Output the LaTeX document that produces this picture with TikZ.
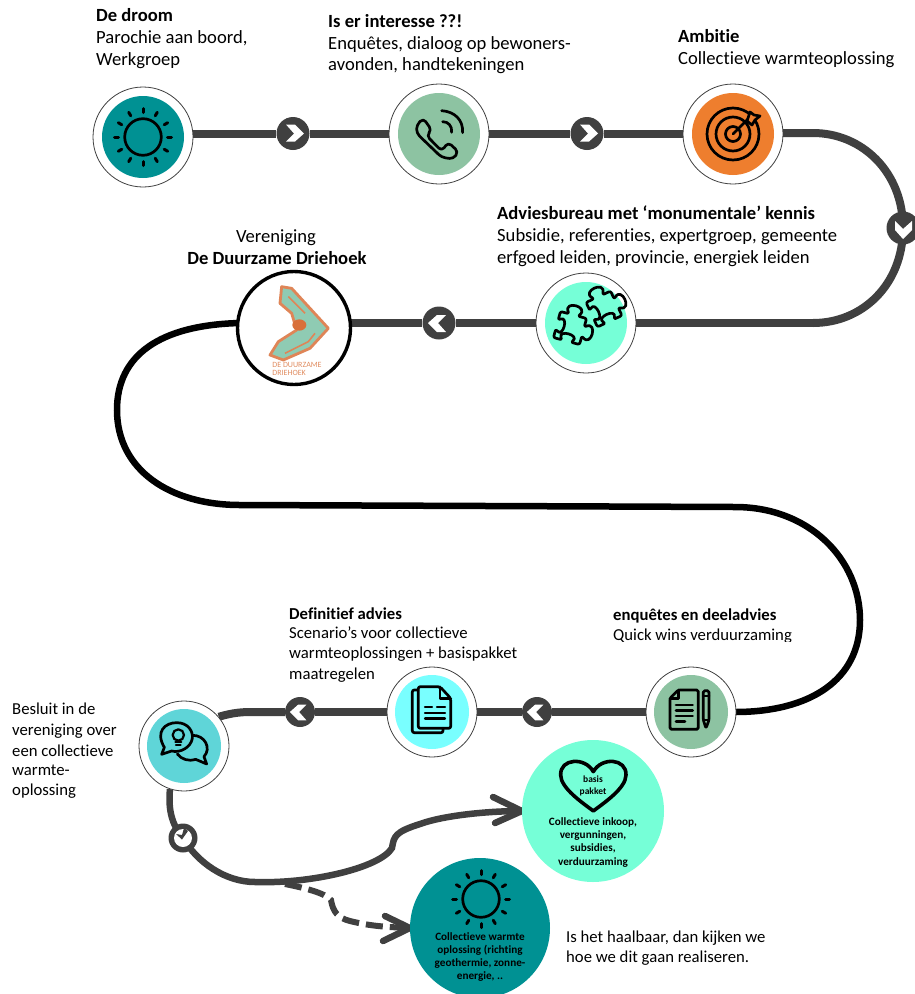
\documentclass[tikz,border=0pt]{standalone}
\usepackage{fontspec}
\setmainfont[Ligatures=CommonOff]{Carlito}
\definecolor{ink}{HTML}{404040}
\definecolor{teal1}{HTML}{009193}
\definecolor{sage}{HTML}{8DC3A2}
\definecolor{orange1}{HTML}{EE7E2E}
\definecolor{aqua}{HTML}{76FFD7}
\definecolor{cyan1}{HTML}{79FFFF}
\definecolor{turq}{HTML}{5FD5D8}
\definecolor{logoG}{HTML}{8FCBB3}
\definecolor{logoO}{HTML}{D9703A}
\pgfdeclarelayer{bg}
\pgfsetlayers{bg,main}
\tikzset{
  ring/.style={circle,draw=ink,line width=.8pt,fill=white,inner sep=0pt,minimum size=#1},
  disc/.style={circle,fill=#1,inner sep=0pt},
  hub/.style={circle,fill=ink,inner sep=0pt,minimum size=#1},
  track/.style={draw=ink,line width=8pt},
  blacktrack/.style={draw=black,line width=6.5pt},
  thin track/.style={draw=ink,line width=6.5pt,line cap=round},
  icon/.style={draw=black,line width=2.7pt,line cap=round,line join=round},
  txt/.style={anchor=base west,inner sep=0pt,font=\fontsize{18.6}{22}\selectfont},
  txtc/.style={anchor=base,inner sep=0pt,font=\fontsize{18.6}{22}\selectfont},
  low/.style={anchor=base west,inner sep=0pt,font=\fontsize{16.7}{20}\selectfont},
  small/.style={anchor=center,inner sep=0pt,font=\fontsize{11.2}{13}\selectfont\bfseries},
  tiny/.style={anchor=center,inner sep=0pt,font=\fontsize{9.5}{11}\selectfont\bfseries},
}
\newcommand{\chevglyph}[3]{\fill[white,shift={(#1)},rotate=#2,scale=#3] (-7,-9)--(2,-9)--(11,0)--(2,8)--(-7,8)--(1,0)--cycle;}
\newcommand{\sunicon}[1]{%
  \draw[icon,shift={(#1)}] (0,0) circle (18.3);
  \foreach \a in {0,30,...,330}{\draw[icon,line width=3pt,shift={(#1)}] (\a:24.5)--(\a:28.5);}
}
\newcommand{\puzzle}[2]{\draw[icon,shift={(#1)},rotate=#2,scale=1.35,rounded corners=2pt]
  (-10,-10)--(-3.5,-10) .. controls (-10,-19) and (10,-19) .. (3.5,-10)
  --(10,-10)--(10,-3.5) .. controls (19,-10) and (19,10) .. (10,3.5)
  --(10,10)--(3.5,10) .. controls (9,3) and (-9,3) .. (-3.5,10)
  --(-10,10)--(-10,3.5) .. controls (-3,9) and (-3,-9) .. (-10,-3.5)--cycle;}
\begin{document}
\begin{tikzpicture}[x=1pt,y=-1pt]
\useasboundingbox (0,0) rectangle (915,994);

% stations
\node[ring=100pt] (sun) at (143,137) {};
\node[ring=100pt] (phone) at (439,134) {};
\node[ring=100pt] (target) at (733,134) {};
\node[ring=100pt] (puz) at (586,323) {};
\node[circle,draw=black,line width=3.4pt,fill=white,inner sep=0pt,minimum size=113pt] (logo) at (294,328) {};
\node[ring=90pt] (doc) at (691,712) {};
\node[ring=90pt] (pages) at (432,712) {};
\node[ring=90pt] (bulb) at (184,746) {};
\node[disc=teal1,minimum size=82pt] (sund) at (sun) {};
\node[disc=sage,minimum size=82pt] (phoned) at (phone) {};
\node[disc=orange1,minimum size=82pt] (targetd) at (target) {};
\node[disc=aqua,minimum size=82pt] (puzd) at (puz) {};
\node[disc=sage,minimum size=74pt] (docd) at (doc) {};
\node[disc=cyan1,minimum size=74pt] (pagesd) at (pages) {};
\node[disc=turq,minimum size=74pt] (bulbd) at (bulb) {};
\node[hub=33pt] (c1) at (293,133.5) {};
\node[hub=33pt] (c2) at (587,133.5) {};
\node[hub=33pt] (c3) at (903,228) {};
\node[hub=33pt] (c4) at (439,323) {};
\node[hub=30pt] (c5) at (537,712) {};
\node[hub=30pt] (c6) at (300,712) {};
\node[hub=29pt] (c7) at (183,838) {};
\node[circle,fill=aqua,minimum size=142pt,inner sep=0pt] (pack) at (593,811) {};
\node[circle,fill=teal1,minimum size=140pt,inner sep=0pt] (warm) at (480,928) {};

\coordinate (r1) at (813,133);
\coordinate (r2) at (813,323);
\coordinate (k0) at (240,323);
\coordinate (k1) at (240,505);
\coordinate (k2) at (735,507);
\coordinate (k3) at (735,712);
\coordinate (b1) at (250,712);
\coordinate (w1) at (255,882);

\begin{pgfonlayer}{bg}
\path[track] (sun |- c1) -- (c1);
\path[track] (c1) -- (phone |- c1);
\path[track] (phone |- c2) -- (c2);
\path[track] (c2) -- (target |- c2);
\path[track] (target |- r1) -- (r1)
   .. controls (862,133) and (903,172) .. (c3.center)
   .. controls (903,285) and (862,323) .. (r2);
\path[track] (r2) -- (puz |- r2);
\path[track] (puz |- c4) -- (c4);
\path[track] (c4) -- (logo |- c4);
\path[blacktrack] (k0) .. controls (160,325) and (117,355) .. (117,410)
   .. controls (117,470) and (170,505) .. (k1) -- (k2)
   .. controls (810,507) and (860,560) .. (860,620)
   .. controls (860,680) and (810,712) .. (k3) -- (doc);
\path[track] (doc) -- (c5);
\path[track] (c5) -- (pages);
\path[track] (pages) -- (c6);
\path[track] (c6) -- (b1) .. controls (238,712) and (228,714) .. (bulb.40);
\path[thin track,line cap=butt] (bulb.252) .. controls (168,810) and (172,825) .. (c7.center)
   .. controls (197,862) and (225,882) .. (w1)
   .. controls (310,884) and (380,868) .. (392,848)
   .. controls (394,836) and (395,832) .. (420,824)
   .. controls (445,815) and (490,811) .. (pack.west);
\path[thin track,line width=6pt,line cap=butt,dash pattern=on 17pt off 7pt] (285,884)
   .. controls (305,888) and (325,893) .. (331,900)
   .. controls (333,912) and (338,918) .. (350,921)
   .. controls (370,926) and (385,927) .. (warm.west);
\path[thin track] (493,797) -- (pack.west) -- (495,823);
\path[thin track] (385,916) -- (warm.west) -- (383,941);
\end{pgfonlayer}

% chevrons
\chevglyph{c1}{0}{1}
\chevglyph{c2}{0}{1}
\chevglyph{c3}{-90}{1}
\chevglyph{c4}{180}{1}
\chevglyph{c5}{180}{.92}
\chevglyph{c6}{180}{.92}
\fill[white] (c7) circle (9);
\fill[ink,shift={(c7)}] (-7,-4)--(-1,1.5)--(5,-7)--(1,-10)--(-1,-3)--cycle;

% sun icons
\sunicon{sun}
\sunicon{481,899}

% phone icon
\begin{scope}[shift={(80,70)},x=.3333pt,y=-.3333pt]
\draw[icon,rounded corners=4pt] (1030,145)--(1055,180)--(1040,197)--(1085,243)--(1105,217)--(1135,245)--(1120,267)--(1085,262)--(1010,190)--(1010,165)--cycle;
\draw[icon] (1085,122) .. controls (1125,125) and (1150,150) .. (1148,188);
\draw[icon] (1088,155) .. controls (1105,155) and (1117,168) .. (1115,187);
\end{scope}

% target icon
\begin{scope}[shift={(target)}]
\draw[icon] (0,0) circle (26) (0,0) circle (17) (0,0) circle (7.5);
\draw[icon] (0,0)--(16,-16);
\draw[icon,fill=orange1] (14,-13)--(17,-22)--(21,-19)--(27,-18)--(22,-14)--(19,-9)--cycle;
\end{scope}

% logo
\begin{scope}[shift={(220,260)},x=.3333pt,y=-.3333pt]
\draw[logoO!85,fill=logoG,line width=2.8pt,line join=round] (185,80)--(215,85)--(325,205)--(270,265)--(190,300)--(150,285)--(175,245)--(230,210)--(215,160)--(180,130)--cycle;
\draw[logoO!85,line width=1.6pt] (195,280)--(265,245)--(285,220) (205,110)--(255,160);
\fill[logoO] (238,195) ellipse (21 and 17);
\end{scope}
\node[inner sep=0pt,align=left,text=logoO!80,font=\fontsize{8}{8.5}\selectfont] (logotext) at (297,369) {DE DUURZAME\\DRIEHOEK};

% puzzle
\puzzle{570,328}{-15}
\puzzle{604,309}{25}

% doc + pencil icon
\begin{scope}[shift={(510,660)},x=.3333pt,y=-.3333pt]
\draw[icon,rounded corners=1.5pt] (480,115)--(505,90)--(565,90)--(565,208)--(480,208)--cycle;
\draw[icon] (480,115)--(505,115)--(505,90);
\draw[icon] (498,135)--(548,135) (498,152)--(548,152) (498,168)--(548,168) (498,184)--(525,184);
\draw[icon,rounded corners=1.5pt] (580,92)--(597,92)--(597,180)--(588,205)--(580,180)--cycle;
\draw[icon] (580,108)--(597,108) (580,180)--(597,180);
\end{scope}

% pages icon
\begin{scope}[shift={(pages)}]
\draw[icon,rounded corners=2pt] (-14,-22)--(-19.7,-22)--(-19.7,20.7)--(11,20.7)--(11,16.3);
\draw[icon,rounded corners=2pt] (-13.7,-25.3)--(8,-25.3)--(18.7,-13.7)--(18.7,16.3)--(-13.7,16.3)--cycle;
\draw[icon] (8,-25.3)--(8,-13.7)--(18.7,-13.7);
\draw[icon,line width=2.2pt] (-7,-4.7)--(0,-4.7) (5,-4.7)--(13,-4.7) (-7,.7)--(13,.7) (-7,6.5)--(13,6.5);
\end{scope}

% bulb bubbles icon
\begin{scope}[shift={(130,660)},x=.3333pt,y=-.3333pt]
\draw[icon] (103,262) .. controls (75,215) and (105,188) .. (140,188)
  .. controls (175,188) and (190,215) .. (187,235)
  .. controls (183,262) and (150,280) .. (125,273) -- (95,283) -- cycle;
\draw[icon] (187,226) .. controls (225,225) and (245,265) .. (222,290) -- (230,312) -- (197,298)
  .. controls (175,305) and (155,298) .. (142,282);
\draw[icon,line width=2.2pt] (145,225) circle (17);
\draw[icon,line width=2.2pt] (136,245)--(154,245) (138,256)--(152,256);
\end{scope}

% heart
\begin{scope}[shift={(510,660)},x=.3333pt,y=-.3333pt]
\draw[icon,line width=3.6pt] (250,335) .. controls (225,290) and (150,295) .. (152,345)
  .. controls (152,385) and (220,430) .. (250,453)
  .. controls (280,430) and (348,385) .. (348,345)
  .. controls (350,295) and (275,290) .. (250,335) -- cycle;
\end{scope}

% text
\node[txt] (t1a) at (96,21) {\textbf{De droom}};
\node[txt] (t1b) at (96,43) {Parochie aan boord,};
\node[txt] (t1c) at (96,65) {Werkgroep};
\node[txt] (t2a) at (328,27) {\textbf{Is er interesse ??!}};
\node[txt] (t2b) at (328,49) {Enquêtes, dialoog op bewoners-};
\node[txt] (t2c) at (328,70) {avonden, handtekeningen};
\node[txt] (t3a) at (678,42) {\textbf{Ambitie}};
\node[txt] (t3b) at (678,64) {Collectieve warmteoplossing};
\node[txt] (t4a) at (497,219) {\textbf{Adviesbureau met ‘monumentale’ kennis}};
\node[txt] (t4b) at (497,241) {Subsidie, referenties, expertgroep, gemeente};
\node[txt] (t4c) at (497,263) {erfgoed leiden, provincie, energiek leiden};
\node[txtc] (t5a) at (276,242) {Vereniging};
\node[txtc] (t5b) at (277,264) {\textbf{De Duurzame Driehoek}};
\node[low] (t6a) at (289,619) {\textbf{Definitief advies}};
\node[low] (t6b) at (289,638) {Scenario’s voor collectieve};
\node[low] (t6c) at (289,658) {warmteoplossingen + basispakket};
\node[low] (t6d) at (289,679) {maatregelen};
\node[low] (t7a) at (613,620) {\textbf{enquêtes en deeladvies}};
\begin{scope}
\clip (600,625) rectangle (820,641);
\node[low] (t7b) at (613,640) {Quick wins verduurzaming};
\end{scope}
\node[low] (t8a) at (12,714) {Besluit in de};
\node[low] (t8b) at (12,735) {vereniging over};
\node[low] (t8c) at (12,756) {een collectieve};
\node[low] (t8d) at (12,775) {warmte-};
\node[low] (t8e) at (12,795) {oplossing};
\node[low] (t9a) at (566,942) {Is het haalbaar, dan kijken we};
\node[low] (t9b) at (566,962) {hoe we dit gaan realiseren.};

\node[tiny] (h1) at (593,779) {basis};
\node[tiny] (h2) at (593,792) {pakket};
\node[small] (p1) at (593,822.7) {Collectieve inkoop,};
\node[small] (p2) at (593,835.7) {vergunningen,};
\node[small] (p3) at (593,848.7) {subsidies,};
\node[small] (p4) at (593,862.7) {verduurzaming};
\node[small] (w1t) at (480,936.7) {Collectieve warmte};
\node[small] (w2t) at (480,950) {oplossing (richting};
\node[small] (w3t) at (480,964) {geothermie, zonne-};
\node[small] (w4t) at (480,977) {energie, ..};
\end{tikzpicture}
\end{document}
